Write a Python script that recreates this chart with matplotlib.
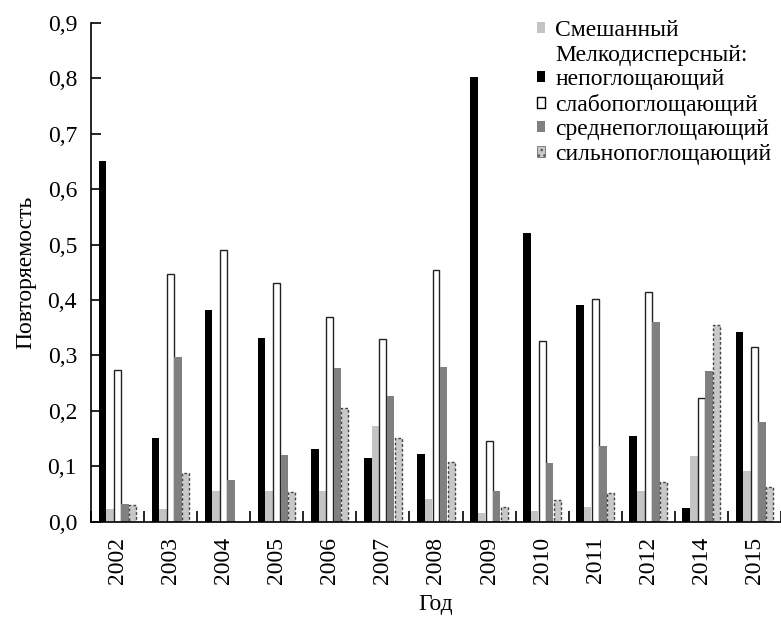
import numpy as np
import matplotlib.pyplot as plt
from matplotlib.patches import Patch

years = ['2002', '2003', '2004', '2005', '2006', '2007', '2008',
         '2009', '2010', '2011', '2012', '2014', '2015']

# повторяемость по типам аэрозоля
non_abs = [0.650, 0.151, 0.382, 0.331, 0.130, 0.115, 0.121,
           0.803, 0.521, 0.390, 0.155, 0.025, 0.343]
mixed = [0.022, 0.022, 0.055, 0.055, 0.055, 0.172, 0.040,
         0.015, 0.019, 0.027, 0.055, 0.119, 0.092]
weak = [0.273, 0.447, 0.490, 0.430, 0.369, 0.329, 0.454,
        0.146, 0.325, 0.402, 0.415, 0.223, 0.315]
medium = [0.031, 0.297, 0.075, 0.120, 0.277, 0.227, 0.279,
          0.055, 0.106, 0.137, 0.361, 0.271, 0.180]
strong = [0.030, 0.087, 0.000, 0.054, 0.205, 0.150, 0.108,
          0.027, 0.039, 0.052, 0.071, 0.355, 0.062]

plt.rcParams['font.family'] = ['Liberation Serif', 'DejaVu Serif']
fs = 17

fig = plt.figure(figsize=(7.81, 6.19), dpi=100)
ax = fig.add_axes([91 / 781, 97.5 / 619, 690 / 781, 498.5 / 619])

x = np.arange(len(years))
w = 0.1425

ax.bar(x - 2 * w, non_abs, w, color='black', linewidth=0)
ax.bar(x - w, mixed, w, color='#c4c4c4', linewidth=0)
ax.bar(x, weak, w * 0.92, color='white', edgecolor='#222222', linewidth=1.0)
ax.bar(x + w, medium, w, color='#808080', linewidth=0)
ax.bar(x + 2 * w, strong, w * 0.92, color='#c8c8c8', edgecolor='#444444',
       linewidth=1.0, linestyle=(0, (2, 1.5)))

ax.set_xlim(-0.5, 12.44)
ax.set_ylim(0, 0.9)

ax.set_xticks(x)
ax.set_xticklabels(years, rotation=90, fontsize=fs)
ax.tick_params(axis='x', which='major', length=0, pad=11)
ax.set_xticks(np.arange(len(years) + 1) - 0.5, minor=True)
ax.tick_params(axis='x', which='minor', direction='in', length=8, width=1.2)

yt = np.arange(0, 0.91, 0.1)
ax.set_yticks(yt)
ax.set_yticklabels([f'{v:.1f}'.replace('.', ',') for v in yt], fontsize=fs)
ax.tick_params(axis='y', direction='in', length=7.5, width=1.2, pad=10)

for s in ['top', 'right']:
    ax.spines[s].set_visible(False)
for s in ['left', 'bottom']:
    ax.spines[s].set_linewidth(1.2)

ax.set_xlabel('Год', fontsize=fs, labelpad=7)
ax.set_ylabel('Повторяемость', fontsize=fs, labelpad=8)

handles = [
    Patch(facecolor='#c4c4c4', linewidth=0),
    Patch(facecolor='none', edgecolor='none'),
    Patch(facecolor='black', linewidth=0),
    Patch(facecolor='white', edgecolor='black', linewidth=1),
    Patch(facecolor='#808080', linewidth=0),
    Patch(facecolor='#c8c8c8', edgecolor='#555555', hatch='...', linewidth=0.5),
]
labels = ['Смешанный', 'Мелкодисперсный:', 'непоглощающий',
          'слабопоглощающий', 'среднепоглощающий', 'сильнопоглощающий']
ax.legend(handles, labels, loc='upper right', bbox_to_anchor=(1.0, 1.025),
          frameon=False, fontsize=fs, handlelength=0.35, handleheight=0.35,
          handletextpad=0.45, labelspacing=0.15, borderaxespad=0)

fig.savefig('out.png', dpi=100)
